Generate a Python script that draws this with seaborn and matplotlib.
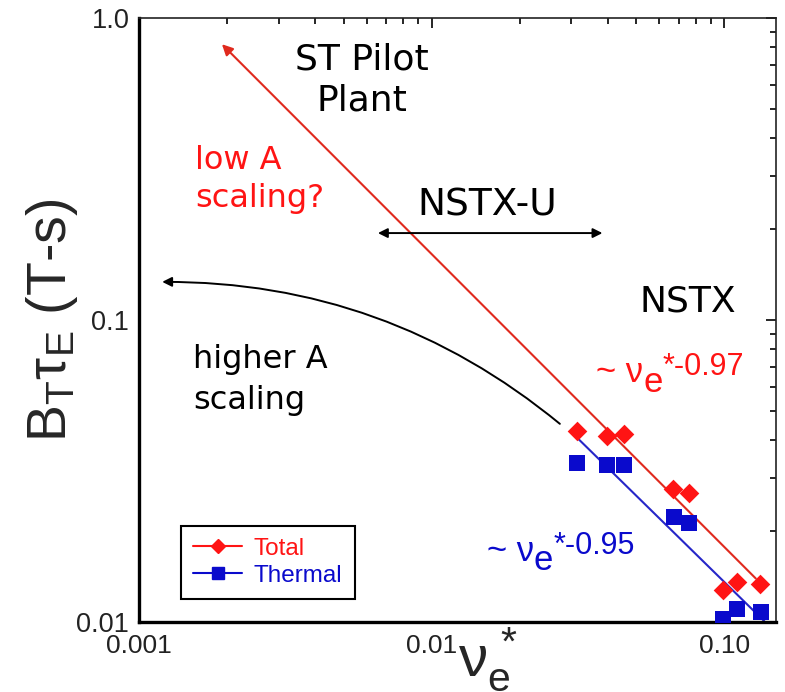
import matplotlib
matplotlib.use("Agg")
import matplotlib.pyplot as plt
from matplotlib.lines import Line2D
from matplotlib.ticker import NullFormatter, LogLocator
import numpy as np
import pandas as pd
import seaborn as sns

# Normalised collisionality and B_T*tau_E for the NSTX discharges
nu_total = [0.0313, 0.0396, 0.0453, 0.0667, 0.0755, 0.0986, 0.110, 0.1324]
bt_tau_total = [0.0429, 0.0414, 0.0419, 0.0276, 0.0268, 0.0128, 0.0136, 0.0134]
nu_thermal = [0.0313, 0.0398, 0.0454, 0.0670, 0.0758, 0.0990, 0.110, 0.1329]
bt_tau_thermal = [0.0337, 0.0330, 0.0330, 0.0223, 0.0212, 0.0102, 0.0110, 0.0108]

series_names = ["Total", "Thermal"]

# Power-law fits: exponent, a point on the line, and the drawn nu range
fit_total_exp, fit_total_ref = -0.97, (0.1315, 0.01357)
fit_total_range = (0.128, 0.00192)
fit_thermal_exp, fit_thermal_ref = -0.95, (0.0315, 0.0406)
fit_thermal_range = (0.0315, 0.137)

x_ticks = [0.001, 0.01, 0.1]
x_tick_labels = ["0.001", "0.01", "0.10"]
y_ticks = [0.01, 0.1, 1.0]
y_tick_labels = ["0.01", "0.1", "1.0"]

RED = "#ff1414"
LINE_RED = "#e02a1e"
BLUE = "#0a0acc"
LINE_BLUE = "#2626c8"
TICK_BLUE = "#1a1ac8"

sns.set_theme(style="white")
plt.rcParams["font.family"] = ["Liberation Sans", "DejaVu Sans"]
plt.rcParams["mathtext.fontset"] = "custom"
plt.rcParams["mathtext.rm"] = "Liberation Sans"
plt.rcParams["mathtext.it"] = "Liberation Sans:italic"
plt.rcParams["mathtext.sf"] = "Liberation Sans"

df = pd.DataFrame({
    "nu": nu_total + nu_thermal,
    "bt_tau": bt_tau_total + bt_tau_thermal,
    "kind": [series_names[0]] * len(nu_total) + [series_names[1]] * len(nu_thermal),
})


def power_law(nu, exponent, ref):
    nu = np.asarray(nu, dtype=float)
    return ref[1] * (nu / ref[0]) ** exponent


fig = plt.figure(figsize=(7.85, 6.92), dpi=100)
ax = fig.add_axes([0.1771, 0.1012, 0.8114, 0.8728])
ax.set_xscale("log")
ax.set_yscale("log")

# Fit lines
tx = np.array(fit_total_range)
ty = power_law(tx, fit_total_exp, fit_total_ref)
ax.annotate("", xy=(tx[1], ty[1]), xytext=(tx[0], ty[0]),
            arrowprops=dict(arrowstyle="-|>", color=LINE_RED, lw=1.5,
                            mutation_scale=16, shrinkA=0, shrinkB=0), zorder=2)
bx = np.array(fit_thermal_range)
sns.lineplot(x=bx, y=power_law(bx, fit_thermal_exp, fit_thermal_ref),
             color=LINE_BLUE, lw=1.5, ax=ax, zorder=2)

# Data points
sns.scatterplot(data=df[df.kind == "Total"], x="nu", y="bt_tau", marker="D",
                color=RED, s=100, linewidth=0, ax=ax, zorder=3, legend=False)
sns.scatterplot(data=df[df.kind == "Thermal"], x="nu", y="bt_tau", marker="s",
                color=BLUE, s=140, linewidth=0, ax=ax, zorder=3, legend=False)

ax.set_xlim(0.001, 0.15)
ax.set_ylim(0.01, 1.0)
ax.set_xticks(x_ticks, x_tick_labels)
ax.set_yticks(y_ticks, y_tick_labels)
ax.xaxis.set_minor_locator(LogLocator(base=10, subs=np.arange(2, 10)))
ax.yaxis.set_minor_locator(LogLocator(base=10, subs=np.arange(2, 10)))
ax.xaxis.set_minor_formatter(NullFormatter())
ax.yaxis.set_minor_formatter(NullFormatter())

ax.tick_params(which="both", direction="in", top=True, right=True,
               labelsize=19.5, labelcolor="#222222", width=1.4)
ax.tick_params(axis="x", labelsize=19)
ax.tick_params(which="major", length=7)
ax.tick_params(which="minor", length=4)
ax.tick_params(axis="x", pad=9)
ax.tick_params(axis="y", pad=7)

for side in ["left", "bottom"]:
    ax.spines[side].set_linewidth(2.4)
    ax.spines[side].set_color("black")
for side in ["top", "right"]:
    ax.spines[side].set_linewidth(1.2)
    ax.spines[side].set_color("#222222")

ax.set_xlabel(r"$\mathrm{\nu_e^{\,*}}$", fontsize=42)
ax.xaxis.set_label_coords(0.548, -0.006)
ax.set_ylabel(r"$\mathrm{B_T\tau_E}$ (T-s)", fontsize=40)
ax.yaxis.label.set(ha="center", va="center")
ax.yaxis.set_label_coords(-0.137, 0.5)

# Annotations
note = dict(family="DejaVu Sans")
ax.text(0.350, 0.897, "ST Pilot\nPlant", transform=ax.transAxes, ha="center",
        va="center", multialignment="center", linespacing=1.25, color="black",
        fontsize=26, **note)
ax.text(0.088, 0.733, "low A\nscaling?", transform=ax.transAxes, ha="left",
        va="center", linespacing=1.3, color=RED, fontsize=23, **note)
ax.text(0.546, 0.690, "NSTX-U", transform=ax.transAxes, ha="center",
        va="center", color="black", fontsize=27, **note)
ax.text(0.862, 0.530, "NSTX", transform=ax.transAxes, ha="center",
        va="center", color="black", fontsize=26, **note)
ax.text(0.085, 0.401, "higher A\nscaling", transform=ax.transAxes, ha="left",
        va="center", linespacing=1.4, color="black", fontsize=23, **note)

ax.annotate("", xy=(0.0383, 0.194), xytext=(0.00655, 0.194),
            arrowprops=dict(arrowstyle="<|-|>", color="black", lw=1.4,
                            mutation_scale=14, shrinkA=0, shrinkB=0))
ax.annotate("", xy=(0.0012, 0.1337), xytext=(0.0274, 0.0453),
            arrowprops=dict(arrowstyle="-|>", color="black", lw=1.4,
                            mutation_scale=14, shrinkA=0, shrinkB=0,
                            connectionstyle="arc3,rad=0.18"))


def scaling_label(x, y, exponent_text, color):
    t1 = ax.text(x, y, "~ \u03bd", transform=ax.transAxes, fontsize=25,
                 color=color, va="bottom")
    t2 = ax.annotate("e", xy=(1, 0), xycoords=t1, xytext=(0, -7),
                     textcoords="offset points", fontsize=25, color=color, va="bottom")
    ax.annotate(exponent_text, xy=(1, 0), xycoords=t2, xytext=(0, 12),
                textcoords="offset points", fontsize=22, color=color, va="bottom")


scaling_label(0.718, 0.385, "*-0.97", RED)
scaling_label(0.546, 0.09, "*-0.95", BLUE)

# Legend
handles = [
    Line2D([], [], color=RED, marker="D", markersize=7, lw=1.5),
    Line2D([], [], color=BLUE, marker="s", markersize=8, lw=1.5),
]
leg = ax.legend(handles, series_names, loc="lower left", bbox_to_anchor=(0.066, 0.038),
                borderaxespad=0, fontsize=17.5, frameon=True, fancybox=False,
                edgecolor="black", framealpha=1, handlelength=2.0,
                handletextpad=0.5, labelspacing=0.2, borderpad=0.5)
leg.get_frame().set_linewidth(1.5)
for text, c in zip(leg.get_texts(), [RED, BLUE]):
    text.set_color(c)

# Tick colours: black on left/top, blue on bottom/right
fig.canvas.draw()
for tick in ax.xaxis.get_major_ticks() + ax.xaxis.get_minor_ticks():
    tick.tick1line.set_color(TICK_BLUE)
    tick.tick2line.set_color("black")
for tick in ax.yaxis.get_major_ticks() + ax.yaxis.get_minor_ticks():
    tick.tick1line.set_color("black")
    tick.tick2line.set_color(TICK_BLUE)

fig.savefig("out.png", dpi=100)
